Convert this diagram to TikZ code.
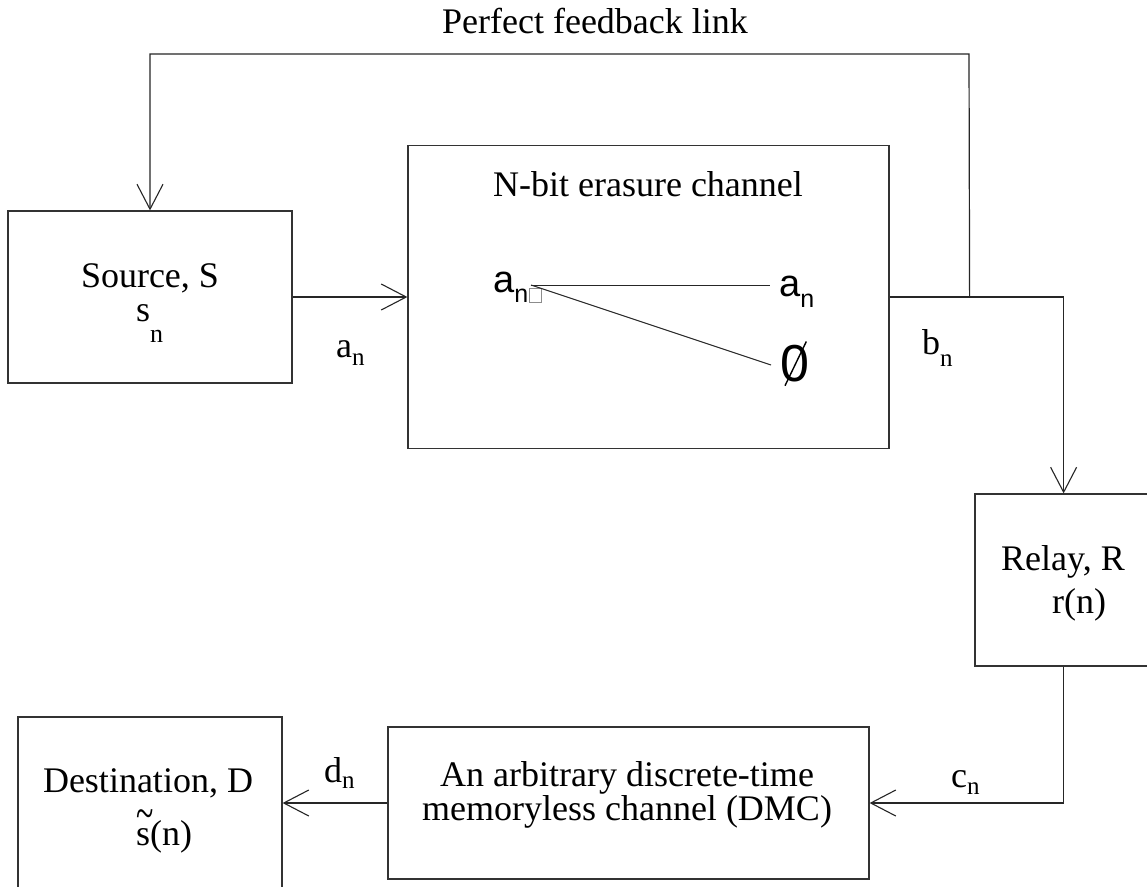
\documentclass[tikz,border=0pt]{standalone}
\usepackage{fontspec}
\setmainfont{Liberation Serif}
\newfontfamily\arialfont{Liberation Sans}
\usetikzlibrary{arrows.meta,calc}

% lowered subscript: #1 = drop, #2 = size, #3 = text
\newcommand\lowsub[3]{\raisebox{-#1pt}{\fontsize{#2}{#2}\selectfont #3}}
% s with a wide, heavy tilde set above it
\newcommand\tildes{\makebox[0pt][l]{\smash{\raisebox{16pt}{\fontsize{32}{32}\selectfont\scalebox{1}[1.5]{\textasciitilde}}}}s}

\begin{document}
\begin{tikzpicture}[x=1pt,y=-1pt,
  every node/.style={inner sep=0pt},
  blk/.style={draw=black!80,line width=1.2pt,minimum width=#1},
  wire/.style={line width=1.2pt,black!85},
  arr/.style={wire,-{Straight Barb[length=25pt,width=26pt,line width=1.1pt]}},
  serif/.style={font=\fontsize{36}{40}\selectfont},
  label/.style={serif,anchor=base west},
  ctr/.style={serif,anchor=base}]

\clip (0,0) rectangle (1147,886);
\fill[white] (0,0) rectangle (1147,886);

% blocks
\node[blk=284pt,minimum height=172pt] (source) at (150,297) {};
\node[blk=481pt,minimum height=303pt] (chan) at (648.5,297) {};
\node[blk=190pt,minimum height=172pt] (relay) at (1070,580) {};
\node[blk=481pt,minimum height=152pt] (dmc) at (628.5,803) {};
\node[blk=264pt,minimum height=172pt] (dest) at (150,803) {};

% block texts
\node[ctr] (ttl) at (595,33) {Perfect feedback link};
\node[ctr] (srcname) at (150,287) {Source, S};
\node[label] (srcsym) at (136,321) {s\lowsub{21}{26}{n}};
\node[ctr] (chname) at (648,196) {N-bit erasure channel};
\node[ctr] (rlname) at (1063,570) {Relay, R};
\node[ctr] (rlsym) at (1079,613) {r(n)};
\node[ctr] (dmc1) at (627,786) {An arbitrary discrete-time};
\node[ctr] (dmc2) at (627,820) {memoryless channel (DMC)};
\node[ctr] (dstname) at (148,792) {Destination, D};
\node[label] (dstsym) at (136,845) {\tildes(n)};

% erasure channel contents
\node[anchor=base west,font=\arialfont\fontsize{38}{40}\selectfont] (inA) at (493,292) {a\lowsub{10}{25}{n}};
\node[draw=black!45,line width=0.8pt,minimum width=12pt,minimum height=14pt] (miss) at (535,295) {};
\node[anchor=base west,font=\arialfont\fontsize{38}{40}\selectfont] (outA) at (779,296) {a\lowsub{11}{25}{n}};
\node[anchor=base west,font=\arialfont\fontsize{52}{54}\selectfont] (zero) at (780,381) {0};
\draw[line width=1.4pt] ($(zero.south west)+(5,4)$) -- ($(zero.north east)+(-3,-3)$);
\coordinate (split) at (531,285);
\coordinate (keep) at (770,285);
\coordinate (erase) at (771,365);
\draw[wire,line width=1pt] (split) -- (keep);
\draw[wire,line width=1pt] (split) -- (erase);

% connectors
\draw[arr] (source.east) -- (chan.west);
\coordinate (fb) at ($(chan.east)+(80,0)$);
\coordinate (tap) at ($(chan.east)+(174,0)$);
\coordinate (fbtop) at (969,54);
\draw[wire] (chan.east) -- (tap);
\draw[arr] (tap) -- (tap |- relay.north);
\draw[arr] (fb) -- (fbtop) -| (source.north);
\draw[arr] (tap |- relay.south) |- (dmc.east);
\draw[arr] (dmc.west) -- (dest.east);

% signal labels
\node[label] (lbla) at (336,357) {a\lowsub{8}{25}{n}};
\node[label] (lblb) at (922,354) {b\lowsub{12}{25}{n}};
\node[label] (lblc) at (951,787) {c\lowsub{7}{25}{n}};
\node[label] (lbld) at (324,782) {d\lowsub{6}{25}{n}};
\end{tikzpicture}
\end{document}
